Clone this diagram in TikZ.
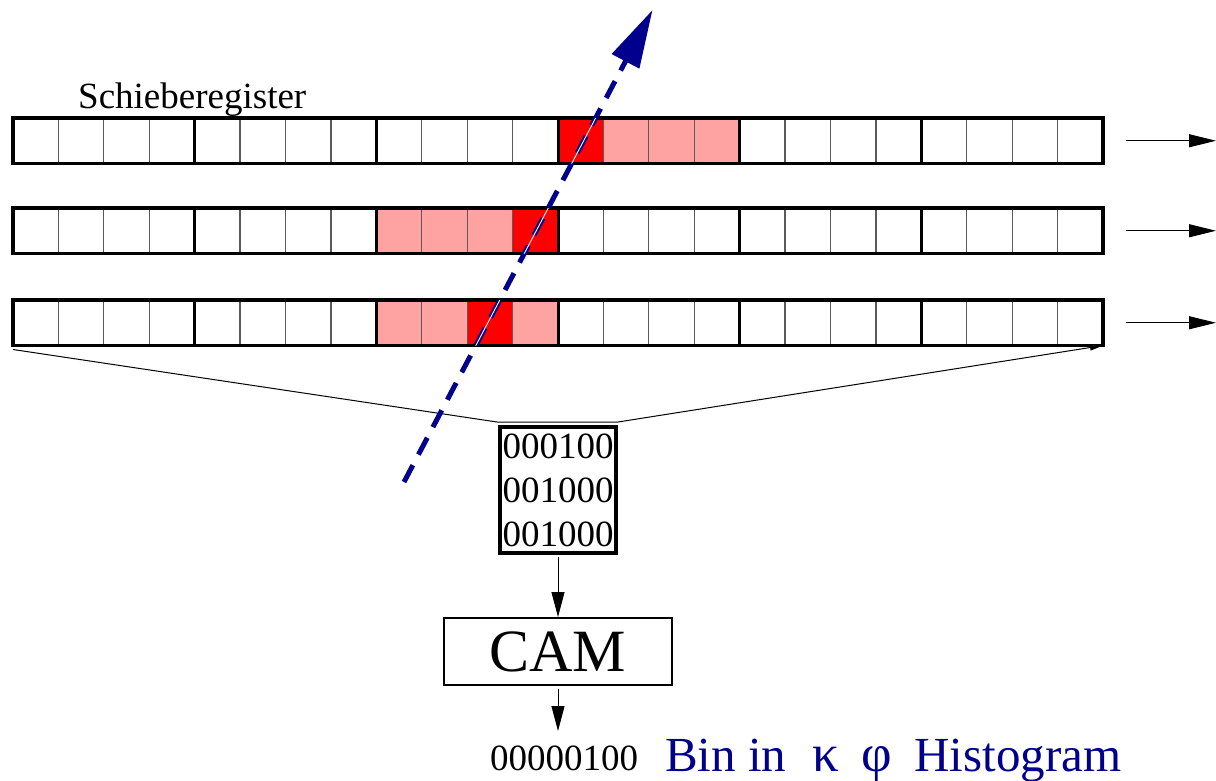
\documentclass[tikz,border=0pt]{standalone}
\usepackage{fontspec}
\setmainfont{Liberation Serif}
\usetikzlibrary{arrows.meta,calc}
\definecolor{pinkc}{RGB}{255,162,162}
\definecolor{navyc}{RGB}{0,0,140}
\definecolor{cellgray}{RGB}{90,90,90}
\begin{document}
\begin{tikzpicture}[x=1pt,y=-1pt,
  reg/.style={minimum width=1090pt, minimum height=45.5pt, inner sep=0pt, outer sep=0pt},
  cellline/.style={line width=1.3pt, cellgray},
  groupline/.style={line width=3pt, black},
  regborder/.style={line width=3.5pt, black},
  shiftarrow/.style={line width=1pt, -{Triangle[length=27pt,width=13pt]}},
  downarrow/.style={line width=1pt, -{Triangle[length=25pt,width=13pt]}},
  track/.style={navyc, line width=5pt, dash pattern=on 19pt off 12pt, -{Triangle[length=58pt,width=30pt]}},
  bitbox/.style={draw, line width=4pt, minimum width=116pt, minimum height=126pt, inner sep=0pt, align=center, font=\fontsize{37}{44}\selectfont},
  cambox/.style={draw, line width=2pt, minimum width=228pt, minimum height=67pt, inner sep=0pt, font=\fontsize{60}{66}\selectfont},
  lbl/.style={inner sep=0pt, font=\fontsize{37}{44}\selectfont},
  binlbl/.style={inner sep=0pt, text=navyc, font=\fontsize{49}{56}\selectfont}
]
\useasboundingbox (0,0) rectangle (1216,780);
\def\cw{45.41667}
% register rows
\node[reg] (r1) at (558,140.75) {};
\node[reg] (r2) at (558,230.75) {};
\node[reg] (r3) at (558,322.75) {};
% coloured cells
\foreach \top/\i/\c in {118/12/red,118/13/pinkc,118/14/pinkc,118/15/pinkc,
                        208/8/pinkc,208/9/pinkc,208/10/pinkc,208/11/red,
                        300/8/pinkc,300/9/pinkc,300/10/red,300/11/pinkc}
  \fill[\c] ({13+\i*\cw},\top) rectangle ++(\cw,45.5);
% cell lines
\foreach \top in {118,208,300}{
  \foreach \i in {1,...,23} \draw[cellline] ({13+\i*\cw},\top) -- ++(0,45.5);
  \foreach \i in {4,8,12,16,20} \draw[groupline] ({13+\i*\cw},\top) -- ++(0,45.5);
}
\foreach \r in {r1,r2,r3} \draw[regborder] (\r.south west) rectangle (\r.north east);
% label
\node[lbl, anchor=base west] (sr) at (78,108) {Schieberegister};
% shift arrows
\foreach \r in {r1,r2,r3}{
  \coordinate (\r a) at ($(\r.east)+(23,0)$);
  \coordinate (\r b) at ($(\r.east)+(113,0)$);
  \draw[shiftarrow] (\r a) -- (\r b);
}
% bit box and CAM
\node[bitbox] (bits) at (558,490) {000100\\001000\\001000};
\node[cambox] (cam) at (558,651.5) {CAM};
% funnel
\coordinate (fs) at ($(r3.south west)+(0,4)$);
\coordinate (fl) at (497,422);
\coordinate (fr) at (618,422);
\draw[line width=1pt, -{Triangle[length=13pt,width=6pt]}] (fs) -- (fl) -- (fr) -- (r3.south east);
% down arrows
\coordinate (bitsout) at ($(bits.south)+(0,2)$);
\draw[downarrow] (bitsout) -- (cam.north);
\coordinate (camout) at ($(cam.south)+(0,3)$);
\coordinate (resin) at (558,731);
\draw[downarrow] (camout) -- (resin);
% result
\node[lbl, anchor=base west] (res) at (490,770) {00000100};
\node[binlbl, anchor=base west] (bin) at (665,771) {Bin in\hspace{14pt} {\fontsize{53}{56}\selectfont κ}\hspace{10pt} {\fontsize{53}{56}\selectfont φ}\hspace{10pt} Histogram};
% track
\coordinate (ts) at (404,482);
\coordinate (tt) at (652.5,10);
\draw[track] (ts) -- (tt);
\begin{scope}
  \clip (r1.south west) rectangle (r1.north east)
        (r2.south west) rectangle (r2.north east)
        (r3.south west) rectangle (r3.north east);
  \draw[white, line width=0.9pt] (ts) -- (tt);
\end{scope}
\end{tikzpicture}
\end{document}
